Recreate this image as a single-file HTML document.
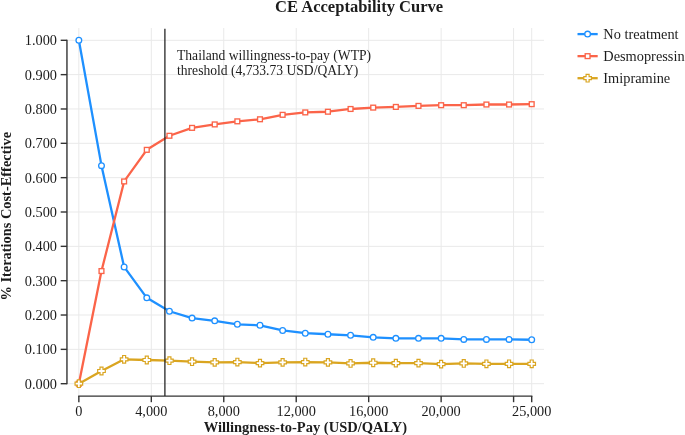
<!DOCTYPE html><html><head><meta charset="utf-8"><title>CE Acceptability Curve</title>
<style>html,body{margin:0;padding:0;background:#fff}svg{display:block;will-change:transform}text{font-family:"Liberation Serif","Times New Roman",Times,serif;fill:#1c1c1c}</style></head><body>
<svg width="685" height="435" viewBox="0 0 685 435">
<rect width="685" height="435" fill="#fff"/>
<g stroke="#e9e9e9" stroke-width="1" fill="none">
<line x1="78.85" y1="28" x2="78.85" y2="396.1"/>
<line x1="151.31" y1="28" x2="151.31" y2="396.1"/>
<line x1="223.76" y1="28" x2="223.76" y2="396.1"/>
<line x1="296.22" y1="28" x2="296.22" y2="396.1"/>
<line x1="368.67" y1="28" x2="368.67" y2="396.1"/>
<line x1="441.13" y1="28" x2="441.13" y2="396.1"/>
<line x1="513.59" y1="28" x2="513.59" y2="396.1"/>
<line x1="531.70" y1="28" x2="531.70" y2="396.1"/>
<line x1="66.95" y1="383.70" x2="544" y2="383.70"/>
<line x1="66.95" y1="349.36" x2="544" y2="349.36"/>
<line x1="66.95" y1="315.02" x2="544" y2="315.02"/>
<line x1="66.95" y1="280.68" x2="544" y2="280.68"/>
<line x1="66.95" y1="246.34" x2="544" y2="246.34"/>
<line x1="66.95" y1="212.00" x2="544" y2="212.00"/>
<line x1="66.95" y1="177.66" x2="544" y2="177.66"/>
<line x1="66.95" y1="143.32" x2="544" y2="143.32"/>
<line x1="66.95" y1="108.98" x2="544" y2="108.98"/>
<line x1="66.95" y1="74.64" x2="544" y2="74.64"/>
<line x1="66.95" y1="40.30" x2="544" y2="40.30"/>
</g>
<g stroke="#333" stroke-width="1.4" fill="none">
<line x1="66.95" y1="39.65" x2="66.95" y2="384.35"/>
<line x1="60.7" y1="383.70" x2="66.95" y2="383.70"/>
<line x1="60.7" y1="349.36" x2="66.95" y2="349.36"/>
<line x1="60.7" y1="315.02" x2="66.95" y2="315.02"/>
<line x1="60.7" y1="280.68" x2="66.95" y2="280.68"/>
<line x1="60.7" y1="246.34" x2="66.95" y2="246.34"/>
<line x1="60.7" y1="212.00" x2="66.95" y2="212.00"/>
<line x1="60.7" y1="177.66" x2="66.95" y2="177.66"/>
<line x1="60.7" y1="143.32" x2="66.95" y2="143.32"/>
<line x1="60.7" y1="108.98" x2="66.95" y2="108.98"/>
<line x1="60.7" y1="74.64" x2="66.95" y2="74.64"/>
<line x1="60.7" y1="40.30" x2="66.95" y2="40.30"/>
<line x1="78.20" y1="396.1" x2="532.35" y2="396.1"/>
<line x1="78.85" y1="396.1" x2="78.85" y2="402.2"/>
<line x1="151.31" y1="396.1" x2="151.31" y2="402.2"/>
<line x1="223.76" y1="396.1" x2="223.76" y2="402.2"/>
<line x1="296.22" y1="396.1" x2="296.22" y2="402.2"/>
<line x1="368.67" y1="396.1" x2="368.67" y2="402.2"/>
<line x1="441.13" y1="396.1" x2="441.13" y2="402.2"/>
<line x1="513.59" y1="396.1" x2="513.59" y2="402.2"/>
<line x1="531.70" y1="396.1" x2="531.70" y2="402.2"/>
</g>
<g font-size="14.3">
<text x="57.0" y="388.65" text-anchor="end">0.000</text>
<text x="57.0" y="354.31" text-anchor="end">0.100</text>
<text x="57.0" y="319.97" text-anchor="end">0.200</text>
<text x="57.0" y="285.63" text-anchor="end">0.300</text>
<text x="57.0" y="251.29" text-anchor="end">0.400</text>
<text x="57.0" y="216.95" text-anchor="end">0.500</text>
<text x="57.0" y="182.61" text-anchor="end">0.600</text>
<text x="57.0" y="148.27" text-anchor="end">0.700</text>
<text x="57.0" y="113.93" text-anchor="end">0.800</text>
<text x="57.0" y="79.59" text-anchor="end">0.900</text>
<text x="57.0" y="45.25" text-anchor="end">1.000</text>
<text x="78.85" y="415.9" text-anchor="middle">0</text>
<text x="151.31" y="415.9" text-anchor="middle">4,000</text>
<text x="223.76" y="415.9" text-anchor="middle">8,000</text>
<text x="296.22" y="415.9" text-anchor="middle">12,000</text>
<text x="368.67" y="415.9" text-anchor="middle">16,000</text>
<text x="441.13" y="415.9" text-anchor="middle">20,000</text>
<text x="531.70" y="415.9" text-anchor="middle">25,000</text>
</g>
<polyline points="78.85,40.30 101.49,165.64 124.13,266.94 146.78,297.85 169.42,311.24 192.06,318.11 214.71,320.86 237.35,324.29 259.99,325.32 282.63,330.47 305.27,333.22 327.92,334.25 350.56,335.28 373.20,337.34 395.85,338.37 418.49,338.37 441.13,338.37 463.77,339.40 486.42,339.40 509.06,339.40 531.70,339.74" fill="none" stroke="#1e90ff" stroke-width="2.3" stroke-linejoin="round"/>
<circle cx="78.85" cy="40.30" r="2.85" fill="#fff" stroke="#1e90ff" stroke-width="1.3"/>
<circle cx="101.49" cy="165.64" r="2.85" fill="#fff" stroke="#1e90ff" stroke-width="1.3"/>
<circle cx="124.13" cy="266.94" r="2.85" fill="#fff" stroke="#1e90ff" stroke-width="1.3"/>
<circle cx="146.78" cy="297.85" r="2.85" fill="#fff" stroke="#1e90ff" stroke-width="1.3"/>
<circle cx="169.42" cy="311.24" r="2.85" fill="#fff" stroke="#1e90ff" stroke-width="1.3"/>
<circle cx="192.06" cy="318.11" r="2.85" fill="#fff" stroke="#1e90ff" stroke-width="1.3"/>
<circle cx="214.71" cy="320.86" r="2.85" fill="#fff" stroke="#1e90ff" stroke-width="1.3"/>
<circle cx="237.35" cy="324.29" r="2.85" fill="#fff" stroke="#1e90ff" stroke-width="1.3"/>
<circle cx="259.99" cy="325.32" r="2.85" fill="#fff" stroke="#1e90ff" stroke-width="1.3"/>
<circle cx="282.63" cy="330.47" r="2.85" fill="#fff" stroke="#1e90ff" stroke-width="1.3"/>
<circle cx="305.27" cy="333.22" r="2.85" fill="#fff" stroke="#1e90ff" stroke-width="1.3"/>
<circle cx="327.92" cy="334.25" r="2.85" fill="#fff" stroke="#1e90ff" stroke-width="1.3"/>
<circle cx="350.56" cy="335.28" r="2.85" fill="#fff" stroke="#1e90ff" stroke-width="1.3"/>
<circle cx="373.20" cy="337.34" r="2.85" fill="#fff" stroke="#1e90ff" stroke-width="1.3"/>
<circle cx="395.85" cy="338.37" r="2.85" fill="#fff" stroke="#1e90ff" stroke-width="1.3"/>
<circle cx="418.49" cy="338.37" r="2.85" fill="#fff" stroke="#1e90ff" stroke-width="1.3"/>
<circle cx="441.13" cy="338.37" r="2.85" fill="#fff" stroke="#1e90ff" stroke-width="1.3"/>
<circle cx="463.77" cy="339.40" r="2.85" fill="#fff" stroke="#1e90ff" stroke-width="1.3"/>
<circle cx="486.42" cy="339.40" r="2.85" fill="#fff" stroke="#1e90ff" stroke-width="1.3"/>
<circle cx="509.06" cy="339.40" r="2.85" fill="#fff" stroke="#1e90ff" stroke-width="1.3"/>
<circle cx="531.70" cy="339.74" r="2.85" fill="#fff" stroke="#1e90ff" stroke-width="1.3"/>
<polyline points="78.85,383.70 101.49,271.06 124.13,181.44 146.78,149.84 169.42,135.77 192.06,127.87 214.71,124.43 237.35,121.34 259.99,119.28 282.63,114.82 305.27,112.41 327.92,111.73 350.56,108.98 373.20,107.61 395.85,106.92 418.49,105.89 441.13,105.20 463.77,105.20 486.42,104.52 509.06,104.52 531.70,104.17" fill="none" stroke="#fb6449" stroke-width="2.3" stroke-linejoin="round"/>
<rect x="76.45" y="381.30" width="4.8" height="4.8" fill="#fff" stroke="#fb6449" stroke-width="1.35"/>
<rect x="99.09" y="268.66" width="4.8" height="4.8" fill="#fff" stroke="#fb6449" stroke-width="1.35"/>
<rect x="121.73" y="179.04" width="4.8" height="4.8" fill="#fff" stroke="#fb6449" stroke-width="1.35"/>
<rect x="144.38" y="147.44" width="4.8" height="4.8" fill="#fff" stroke="#fb6449" stroke-width="1.35"/>
<rect x="167.02" y="133.37" width="4.8" height="4.8" fill="#fff" stroke="#fb6449" stroke-width="1.35"/>
<rect x="189.66" y="125.47" width="4.8" height="4.8" fill="#fff" stroke="#fb6449" stroke-width="1.35"/>
<rect x="212.31" y="122.03" width="4.8" height="4.8" fill="#fff" stroke="#fb6449" stroke-width="1.35"/>
<rect x="234.95" y="118.94" width="4.8" height="4.8" fill="#fff" stroke="#fb6449" stroke-width="1.35"/>
<rect x="257.59" y="116.88" width="4.8" height="4.8" fill="#fff" stroke="#fb6449" stroke-width="1.35"/>
<rect x="280.23" y="112.42" width="4.8" height="4.8" fill="#fff" stroke="#fb6449" stroke-width="1.35"/>
<rect x="302.88" y="110.01" width="4.8" height="4.8" fill="#fff" stroke="#fb6449" stroke-width="1.35"/>
<rect x="325.52" y="109.33" width="4.8" height="4.8" fill="#fff" stroke="#fb6449" stroke-width="1.35"/>
<rect x="348.16" y="106.58" width="4.8" height="4.8" fill="#fff" stroke="#fb6449" stroke-width="1.35"/>
<rect x="370.80" y="105.21" width="4.8" height="4.8" fill="#fff" stroke="#fb6449" stroke-width="1.35"/>
<rect x="393.45" y="104.52" width="4.8" height="4.8" fill="#fff" stroke="#fb6449" stroke-width="1.35"/>
<rect x="416.09" y="103.49" width="4.8" height="4.8" fill="#fff" stroke="#fb6449" stroke-width="1.35"/>
<rect x="438.73" y="102.80" width="4.8" height="4.8" fill="#fff" stroke="#fb6449" stroke-width="1.35"/>
<rect x="461.37" y="102.80" width="4.8" height="4.8" fill="#fff" stroke="#fb6449" stroke-width="1.35"/>
<rect x="484.02" y="102.12" width="4.8" height="4.8" fill="#fff" stroke="#fb6449" stroke-width="1.35"/>
<rect x="506.66" y="102.12" width="4.8" height="4.8" fill="#fff" stroke="#fb6449" stroke-width="1.35"/>
<rect x="529.30" y="101.77" width="4.8" height="4.8" fill="#fff" stroke="#fb6449" stroke-width="1.35"/>
<polyline points="78.85,383.70 101.49,370.99 124.13,359.32 146.78,360.01 169.42,360.69 192.06,361.72 214.71,362.41 237.35,362.07 259.99,363.10 282.63,362.41 305.27,362.07 327.92,362.41 350.56,363.44 373.20,362.75 395.85,363.10 418.49,363.10 441.13,364.13 463.77,363.44 486.42,363.78 509.06,363.78 531.70,363.78" fill="none" stroke="#daa520" stroke-width="2.3" stroke-linejoin="round"/>
<path d="M77.35,379.90h3.0v2.3h2.3v3.0h-2.3v2.3h-3.0v-2.3h-2.3v-3.0h2.3z" fill="#fff" stroke="#daa520" stroke-width="1.2"/>
<path d="M99.99,367.19h3.0v2.3h2.3v3.0h-2.3v2.3h-3.0v-2.3h-2.3v-3.0h2.3z" fill="#fff" stroke="#daa520" stroke-width="1.2"/>
<path d="M122.63,355.52h3.0v2.3h2.3v3.0h-2.3v2.3h-3.0v-2.3h-2.3v-3.0h2.3z" fill="#fff" stroke="#daa520" stroke-width="1.2"/>
<path d="M145.28,356.21h3.0v2.3h2.3v3.0h-2.3v2.3h-3.0v-2.3h-2.3v-3.0h2.3z" fill="#fff" stroke="#daa520" stroke-width="1.2"/>
<path d="M167.92,356.89h3.0v2.3h2.3v3.0h-2.3v2.3h-3.0v-2.3h-2.3v-3.0h2.3z" fill="#fff" stroke="#daa520" stroke-width="1.2"/>
<path d="M190.56,357.92h3.0v2.3h2.3v3.0h-2.3v2.3h-3.0v-2.3h-2.3v-3.0h2.3z" fill="#fff" stroke="#daa520" stroke-width="1.2"/>
<path d="M213.21,358.61h3.0v2.3h2.3v3.0h-2.3v2.3h-3.0v-2.3h-2.3v-3.0h2.3z" fill="#fff" stroke="#daa520" stroke-width="1.2"/>
<path d="M235.85,358.27h3.0v2.3h2.3v3.0h-2.3v2.3h-3.0v-2.3h-2.3v-3.0h2.3z" fill="#fff" stroke="#daa520" stroke-width="1.2"/>
<path d="M258.49,359.30h3.0v2.3h2.3v3.0h-2.3v2.3h-3.0v-2.3h-2.3v-3.0h2.3z" fill="#fff" stroke="#daa520" stroke-width="1.2"/>
<path d="M281.13,358.61h3.0v2.3h2.3v3.0h-2.3v2.3h-3.0v-2.3h-2.3v-3.0h2.3z" fill="#fff" stroke="#daa520" stroke-width="1.2"/>
<path d="M303.77,358.27h3.0v2.3h2.3v3.0h-2.3v2.3h-3.0v-2.3h-2.3v-3.0h2.3z" fill="#fff" stroke="#daa520" stroke-width="1.2"/>
<path d="M326.42,358.61h3.0v2.3h2.3v3.0h-2.3v2.3h-3.0v-2.3h-2.3v-3.0h2.3z" fill="#fff" stroke="#daa520" stroke-width="1.2"/>
<path d="M349.06,359.64h3.0v2.3h2.3v3.0h-2.3v2.3h-3.0v-2.3h-2.3v-3.0h2.3z" fill="#fff" stroke="#daa520" stroke-width="1.2"/>
<path d="M371.70,358.95h3.0v2.3h2.3v3.0h-2.3v2.3h-3.0v-2.3h-2.3v-3.0h2.3z" fill="#fff" stroke="#daa520" stroke-width="1.2"/>
<path d="M394.35,359.30h3.0v2.3h2.3v3.0h-2.3v2.3h-3.0v-2.3h-2.3v-3.0h2.3z" fill="#fff" stroke="#daa520" stroke-width="1.2"/>
<path d="M416.99,359.30h3.0v2.3h2.3v3.0h-2.3v2.3h-3.0v-2.3h-2.3v-3.0h2.3z" fill="#fff" stroke="#daa520" stroke-width="1.2"/>
<path d="M439.63,360.33h3.0v2.3h2.3v3.0h-2.3v2.3h-3.0v-2.3h-2.3v-3.0h2.3z" fill="#fff" stroke="#daa520" stroke-width="1.2"/>
<path d="M462.27,359.64h3.0v2.3h2.3v3.0h-2.3v2.3h-3.0v-2.3h-2.3v-3.0h2.3z" fill="#fff" stroke="#daa520" stroke-width="1.2"/>
<path d="M484.92,359.98h3.0v2.3h2.3v3.0h-2.3v2.3h-3.0v-2.3h-2.3v-3.0h2.3z" fill="#fff" stroke="#daa520" stroke-width="1.2"/>
<path d="M507.56,359.98h3.0v2.3h2.3v3.0h-2.3v2.3h-3.0v-2.3h-2.3v-3.0h2.3z" fill="#fff" stroke="#daa520" stroke-width="1.2"/>
<path d="M530.20,359.98h3.0v2.3h2.3v3.0h-2.3v2.3h-3.0v-2.3h-2.3v-3.0h2.3z" fill="#fff" stroke="#daa520" stroke-width="1.2"/>
<line x1="164.9" y1="28.8" x2="164.9" y2="396.1" stroke="#262626" stroke-width="1.3"/>
<text font-size="13.6" x="177" y="60.3">Thailand willingness-to-pay (WTP)</text>
<text font-size="13.6" x="177" y="74.6">threshold (4,733.73 USD/QALY)</text>
<text font-size="16.55" font-weight="bold" x="359.1" y="11.6" text-anchor="middle">CE Acceptability Curve</text>
<text font-size="14.5" font-weight="bold" x="305.4" y="432.1" text-anchor="middle">Willingness-to-Pay (USD/QALY)</text>
<text font-size="14.4" font-weight="bold" transform="translate(10.8,216.3) rotate(-90)" text-anchor="middle">% Iterations Cost-Effective</text>
<line x1="577.5" y1="34.10" x2="597.7" y2="34.10" stroke="#1e90ff" stroke-width="2.3"/>
<circle cx="587.60" cy="34.10" r="2.85" fill="#fff" stroke="#1e90ff" stroke-width="1.3"/>
<text font-size="14.35" x="603.3" y="38.90">No treatment</text>
<line x1="577.5" y1="56.15" x2="597.7" y2="56.15" stroke="#fb6449" stroke-width="2.3"/>
<rect x="585.20" y="53.75" width="4.8" height="4.8" fill="#fff" stroke="#fb6449" stroke-width="1.35"/>
<text font-size="14.35" x="603.3" y="60.95">Desmopressin</text>
<line x1="577.5" y1="78.20" x2="597.7" y2="78.20" stroke="#daa520" stroke-width="2.3"/>
<path d="M586.10,74.40h3.0v2.3h2.3v3.0h-2.3v2.3h-3.0v-2.3h-2.3v-3.0h2.3z" fill="#fff" stroke="#daa520" stroke-width="1.2"/>
<text font-size="14.35" x="603.3" y="83.00">Imipramine</text>
</svg></body></html>
